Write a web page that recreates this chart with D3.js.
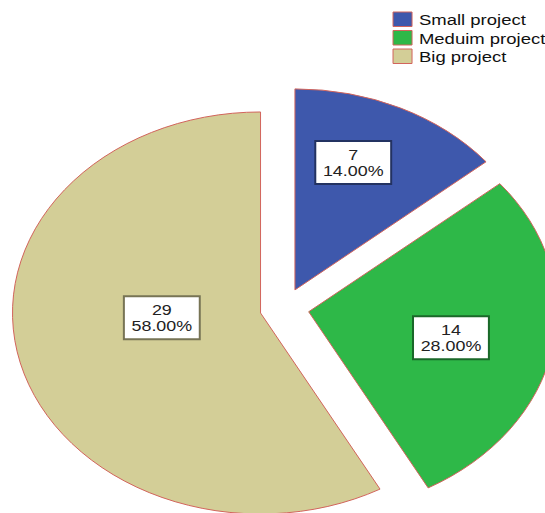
<!DOCTYPE html>
<html>
<head>
<meta charset="utf-8">
<script src="https://cdn.jsdelivr.net/npm/d3@7"></script>
<style>
  html, body { margin: 0; padding: 0; background: #fff; }
  svg { display: block; }
  text { font-family: "Liberation Sans", Arial, sans-serif; }
</style>
</head>
<body>
<script>
// Project size counts
const categories = ["Small project", "Meduim project", "Big project"];
const counts = [7, 14, 29];
const colors = ["#3E58AC", "#2EB848", "#D3CE97"];

// Layout
const W = 545, H = 513;
const stretchX = 1.234;          // chart is drawn horizontally stretched
const radius = 201;
const explode = 20;              // distance each slice is pulled out
const center = [230.5, 308];
const outline = "#d2645c";
const labelShift = [[-8, -10], [0, 4], [-11, -13]];

const total = d3.sum(counts);

const svg = d3.select("body").append("svg")
  .attr("width", W).attr("height", H);

const root = svg.append("g").attr("transform", `scale(${stretchX},1)`);

const arcs = d3.pie().sort(null).value(d => d)(counts);
const arc = d3.arc().innerRadius(0).outerRadius(radius);

const slices = root.append("g")
  .attr("transform", `translate(${center[0]},${center[1]})`)
  .selectAll("g.slice")
  .data(arcs)
  .join("g")
  .attr("class", "slice")
  .attr("transform", d => {
    const m = (d.startAngle + d.endAngle) / 2;
    return `translate(${explode * Math.sin(m)},${-explode * Math.cos(m)})`;
  });

slices.append("path")
  .attr("d", arc)
  .attr("fill", (d, i) => colors[i])
  .attr("stroke", outline)
  .attr("stroke-width", 1)
  .attr("vector-effect", "non-scaling-stroke");

// Value labels at each sector's centroid
const boxW = 61.5, boxH = 43;
const labels = slices.append("g")
  .attr("transform", (d, i) => {
    const m = (d.startAngle + d.endAngle) / 2;
    const a = (d.endAngle - d.startAngle) / 2;
    const dist = 2 * radius * Math.sin(a) / (3 * a);
    const x = dist * Math.sin(m) + labelShift[i][0];
    const y = -dist * Math.cos(m) + labelShift[i][1];
    return `translate(${x},${y})`;
  });

labels.append("rect")
  .attr("x", -boxW / 2).attr("y", -boxH / 2)
  .attr("width", boxW).attr("height", boxH)
  .attr("fill", "#fff")
  .attr("stroke", (d, i) => d3.color(colors[i]).darker(1.6))
  .attr("stroke-width", 2)
  .attr("vector-effect", "non-scaling-stroke");

labels.append("text")
  .attr("text-anchor", "middle")
  .attr("y", -3)
  .attr("font-size", 14.5)
  .attr("fill", "#222")
  .text(d => d.data);

labels.append("text")
  .attr("text-anchor", "middle")
  .attr("y", 13.5)
  .attr("font-size", 14.5)
  .attr("fill", "#222")
  .text(d => (d.data / total * 100).toFixed(2) + "%");

// Legend
const legend = root.append("g").attr("transform", "translate(318.5,12)");
const rows = legend.selectAll("g")
  .data(categories)
  .join("g")
  .attr("transform", (d, i) => `translate(0,${i * 18.5})`);

rows.append("rect")
  .attr("width", 15.4).attr("height", 14.5)
  .attr("fill", (d, i) => colors[i])
  .attr("stroke", outline)
  .attr("stroke-width", 1)
  .attr("vector-effect", "non-scaling-stroke");

rows.append("text")
  .attr("x", 21)
  .attr("y", 13.5)
  .attr("font-size", 15)
  .attr("fill", "#111")
  .text(d => d);
</script>
</body>
</html>
